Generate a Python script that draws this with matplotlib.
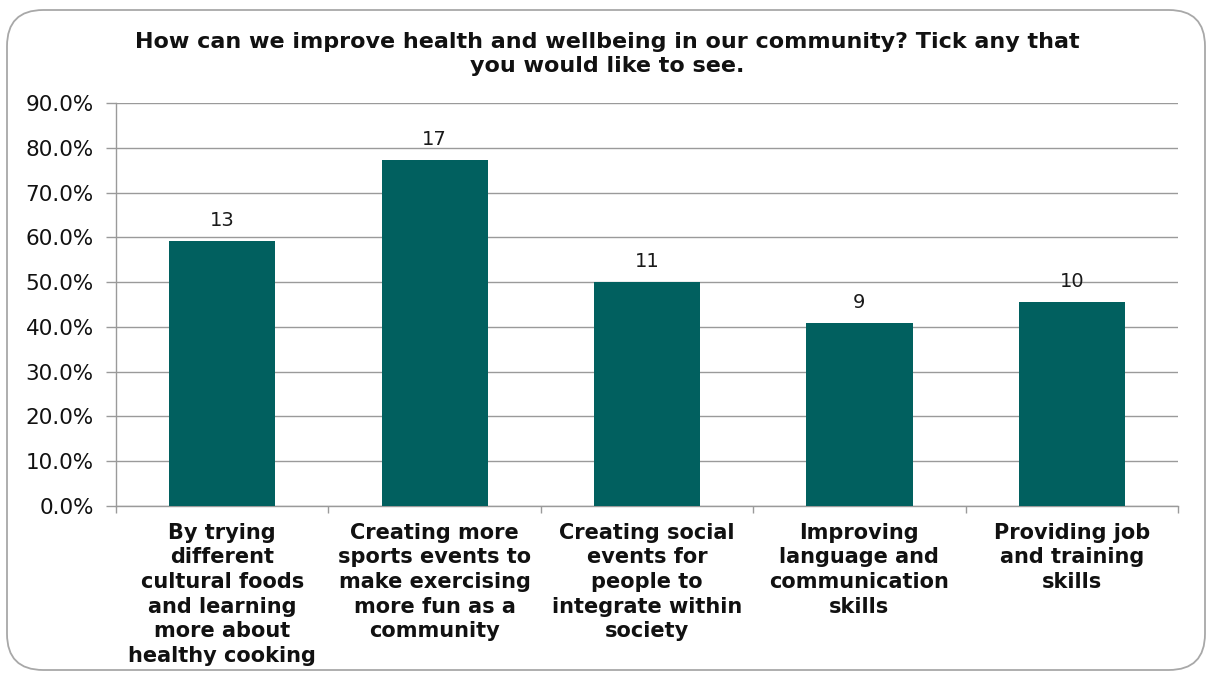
import matplotlib.pyplot as plt
from matplotlib.patches import FancyBboxPatch
from matplotlib.ticker import FixedLocator, PercentFormatter

# Survey responses: share of respondents and raw tick counts
categories = [
    "By trying\ndifferent\ncultural foods\nand learning\nmore about\nhealthy cooking",
    "Creating more\nsports events to\nmake exercising\nmore fun as a\ncommunity",
    "Creating social\nevents for\npeople to\nintegrate within\nsociety",
    "Improving\nlanguage and\ncommunication\nskills",
    "Providing job\nand training\nskills",
]
percent = [59.1, 77.3, 50.0, 40.9, 45.5]
counts = [13, 17, 11, 9, 10]
title = ("How can we improve health and wellbeing in our community? Tick any that\n"
         "you would like to see.")

BAR_COLOR = "#01605F"
GRID_COLOR = "#9A9A9A"

plt.rcParams["font.family"] = ["DejaVu Sans"]

fig = plt.figure(figsize=(12.06, 6.73), dpi=100)
fig.patch.set_facecolor("white")

# rounded frame around the whole chart
frame = FancyBboxPatch((7 / 1206, 3 / 673), 1198 / 1206, 660 / 673,
                       boxstyle="round,pad=0,rounding_size=0.03",
                       transform=fig.transFigure, facecolor="none",
                       edgecolor="#A8A8A8", linewidth=1.3, mutation_aspect=1206 / 673)
fig.add_artist(frame)

ax = fig.add_axes([116 / 1206, 1 - 506 / 673, 1062 / 1206, 403 / 673])

x = range(len(categories))
bars = ax.bar(x, percent, width=0.5, color=BAR_COLOR, zorder=3)

for bar, n in zip(bars, counts):
    ax.annotate(str(n), (bar.get_x() + bar.get_width() / 2, bar.get_height()),
                xytext=(0, 8), textcoords="offset points", ha="center", va="bottom",
                fontsize=14, color="#1a1a1a")

ax.set_xlim(-0.5, len(categories) - 0.5)
ax.set_ylim(0, 90)
ax.set_yticks(range(0, 91, 10))
ax.yaxis.set_major_formatter(PercentFormatter(decimals=1))
ax.yaxis.grid(True, color=GRID_COLOR, linewidth=1.0, zorder=0)
ax.tick_params(axis="y", length=7, width=1, color=GRID_COLOR, labelsize=15.5,
               labelcolor="#111111", pad=9)

ax.set_xticks(list(x))
ax.set_xticklabels(categories, fontsize=15, fontweight="bold", linespacing=1.29,
                   color="#111111")
ax.tick_params(axis="x", length=0, pad=12)
ax.xaxis.set_minor_locator(FixedLocator([i - 0.5 for i in range(len(categories) + 1)]))
ax.tick_params(axis="x", which="minor", length=5, width=1, color=GRID_COLOR)

for side in ("top", "right"):
    ax.spines[side].set_visible(False)
for side in ("left", "bottom"):
    ax.spines[side].set_color(GRID_COLOR)
    ax.spines[side].set_linewidth(1.0)

fig.text(607 / 1206, 1 - 54 / 673, title, ha="center", va="center", fontsize=16,
         fontweight="bold", linespacing=1.25, color="#111111")

fig.savefig("out.png", dpi=100)
